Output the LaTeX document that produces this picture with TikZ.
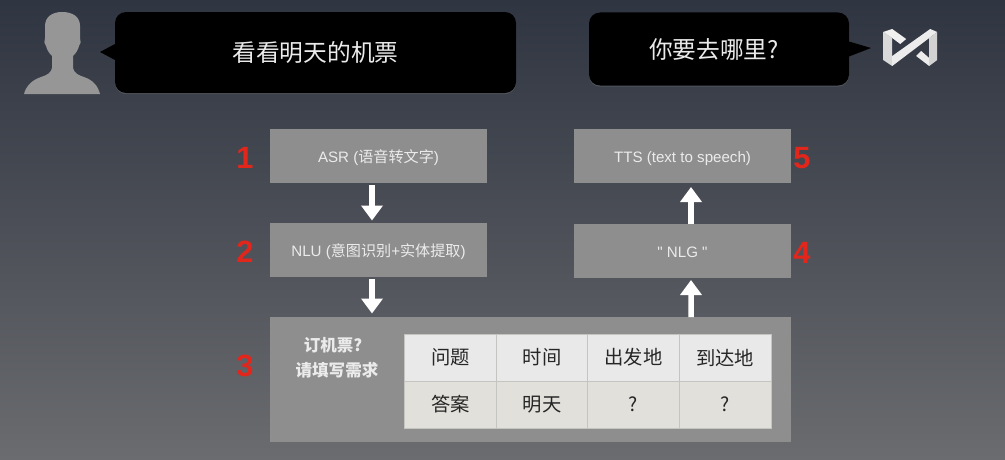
\documentclass[tikz,border=0pt]{standalone}
\usepackage{fontspec}
\setmainfont{Noto Sans CJK SC}
\newfontfamily\digitfont{Liberation Sans}
\usetikzlibrary{positioning}
\usetikzlibrary{calc}
\usetikzlibrary{arrows.meta}
\usetikzlibrary{shadows}
\definecolor{bgtop}{HTML}{2F3541}
\definecolor{bgmid}{HTML}{4C4F57}
\definecolor{bgbot}{HTML}{6A6C6F}
\definecolor{boxgray}{HTML}{8E8E8E}
\definecolor{headfill}{HTML}{E9E9EA}
\definecolor{ansfill}{HTML}{E1E0DA}
\definecolor{cellline}{HTML}{C4C4C0}
\definecolor{numred}{HTML}{E3261C}
\tikzset{bubble/.style={fill=black, rounded corners=2.2mm, text=white!92!black, font=\fontsize{13.5}{16}\selectfont, inner sep=0pt, outer sep=0pt, drop shadow={shadow xshift=0pt, shadow yshift=-0.6pt, opacity=.35}}}
\tikzset{stage/.style={fill=boxgray, text=white!92!black, font=\fontsize{8.6}{10}\selectfont, text height=8.4pt, text depth=1pt, minimum width=4.34cm, minimum height=1.08cm, inner sep=0pt, outer sep=0pt}}
\tikzset{num/.style={text=numred, font=\digitfont\bfseries\fontsize{17.5}{20}\selectfont, inner sep=0pt, yshift=-.04cm}}
\tikzset{bigarrow/.style={draw=white, line width=1.1mm, arrows={-Triangle[width=4.2mm, length=3mm]}}}
\tikzset{cell/.style={draw=cellline, line width=0.3pt, text=black!85, font=\fontsize{11}{13}\selectfont, minimum width=1.83cm, minimum height=.94cm, inner sep=0pt, outer sep=0pt}}

\begin{document}
\begin{tikzpicture}
\useasboundingbox (0,0) rectangle (20.1,-9.18);
\shade[top color=bgtop, bottom color=bgbot, middle color=bgmid] (0,0) rectangle (20.1,-9.18);

\begin{scope}[on grid]
\node[bubble, minimum width=8.02cm, minimum height=1.62cm] (ask) at (6.31,-1.05) {看看明天的机票};
\node[bubble, minimum width=5.2cm, minimum height=1.46cm] (reply) at (14.38,-0.98) {你要去哪里?\hspace*{.2cm}};

\coordinate (asktip) at (2,-1.04);
\coordinate (replytip) at (17.42,-0.96);
\fill (asktip) -- ($(ask.west)+(0,0.17)$) -- ($(ask.west)+(0,-0.15)$) -- cycle;
\fill (replytip) -- ($(reply.east)+(0,0.15)$) -- ($(reply.east)+(0,-0.15)$) -- cycle;

\node[stage] (asr) at (7.57,-3.12) {{\digitfont ASR (}语音转文字{\digitfont )}};
\node[stage] (nlu) [below = 1.87 of asr] {{\digitfont NLU (}意图识别{\digitfont +}实体提取{\digitfont )}};
\node[stage] (tts) at (13.65,-3.12) {\digitfont TTS (text to speech)};
\node[stage] (nlg) [below = 1.9 of tts] {\digitfont " NLG "};
\node[stage, minimum width=10.42cm, minimum height=2.5cm] (frame) at (10.61,-7.59) {};

\node[num] (one) [left = 2.67 of asr] {1};
\node[num] (two) [left = 2.67 of nlu] {2};
\node[num] (three) [left = 5.71 of frame, yshift=.31cm] {3};
\node[num] (four) [right = 2.39 of nlg] {4};
\node[num] (five) [right = 2.39 of tts] {5};

\draw[bigarrow] ($(asr.south)+(-0.13,-0.04)$) -- ($(nlu.north)+(-0.13,0.04)$);
\draw[bigarrow] ($(nlu.south)+(-0.13,-0.04)$) -- ($(frame.north)+(-3.17,0.07)$);
\draw[bigarrow] ($(frame.north)+(3.21,0)$) -- ($(nlg.south)+(0.17,-0.04)$);
\draw[bigarrow] ($(nlg.north)+(0.17,0)$) -- ($(tts.south)+(0.17,-0.08)$);

\node[text=white!92!black, font=\bfseries\fontsize{9.4}{14.2}\selectfont, align=center, inner sep=0pt] (ticket) at ($(frame.west)+(1.34,0.44)$) {订机票?\hspace*{.16cm}\\请填写需求};

\foreach \ques/\ans [count=\c] in {问题/答案, 时间/明天, 出发地/?, 到达地/?} {
  \node[cell, fill=headfill] (q\c) at (7.18+1.83*\c,-7.15) {\ques};
  \node[cell, fill=ansfill] (a\c) [below = .94 of q\c] {\ans};
}
\end{scope}

% user icon
\begin{scope}[x=0.02cm, y=-0.02cm]
\fill[gray!82] (24,94) .. controls (26,86) and (32,80) .. (41,77)
  .. controls (47,75) and (51,73) .. (52,68) -- (52,56)
  .. controls (49,53) and (47,50) .. (46,46) .. controls (44,44) and (44,41) .. (45,38)
  -- (45,26) .. controls (45,17) and (52,12) .. (62,12) .. controls (73,12) and (80,17) .. (80,26)
  -- (80,38) .. controls (81,41) and (81,44) .. (79,46)
  .. controls (78,50) and (76,53) .. (73,56) -- (73,68)
  .. controls (74,73) and (78,75) .. (84,77) .. controls (93,80) and (98,86) .. (100,94) -- cycle;

% logo
\fill[gray!30] (883,32) -- (892,38) -- (892,66) -- (883,60) -- cycle;
\fill[gray!12] (883,32) -- (892,29) -- (906,39) -- (900,44) -- (892,38) -- cycle;
\fill[gray!15] (892,56) -- (930,29) -- (937,32) -- (929,38) -- (892,66) -- cycle;
\fill[gray!35] (929,38) -- (937,32) -- (937,60) -- (929,66) -- cycle;
\fill[gray!15] (916,56) -- (921,51) -- (929,58) -- (929,66) -- cycle;
\end{scope}
\end{tikzpicture}
\end{document}
